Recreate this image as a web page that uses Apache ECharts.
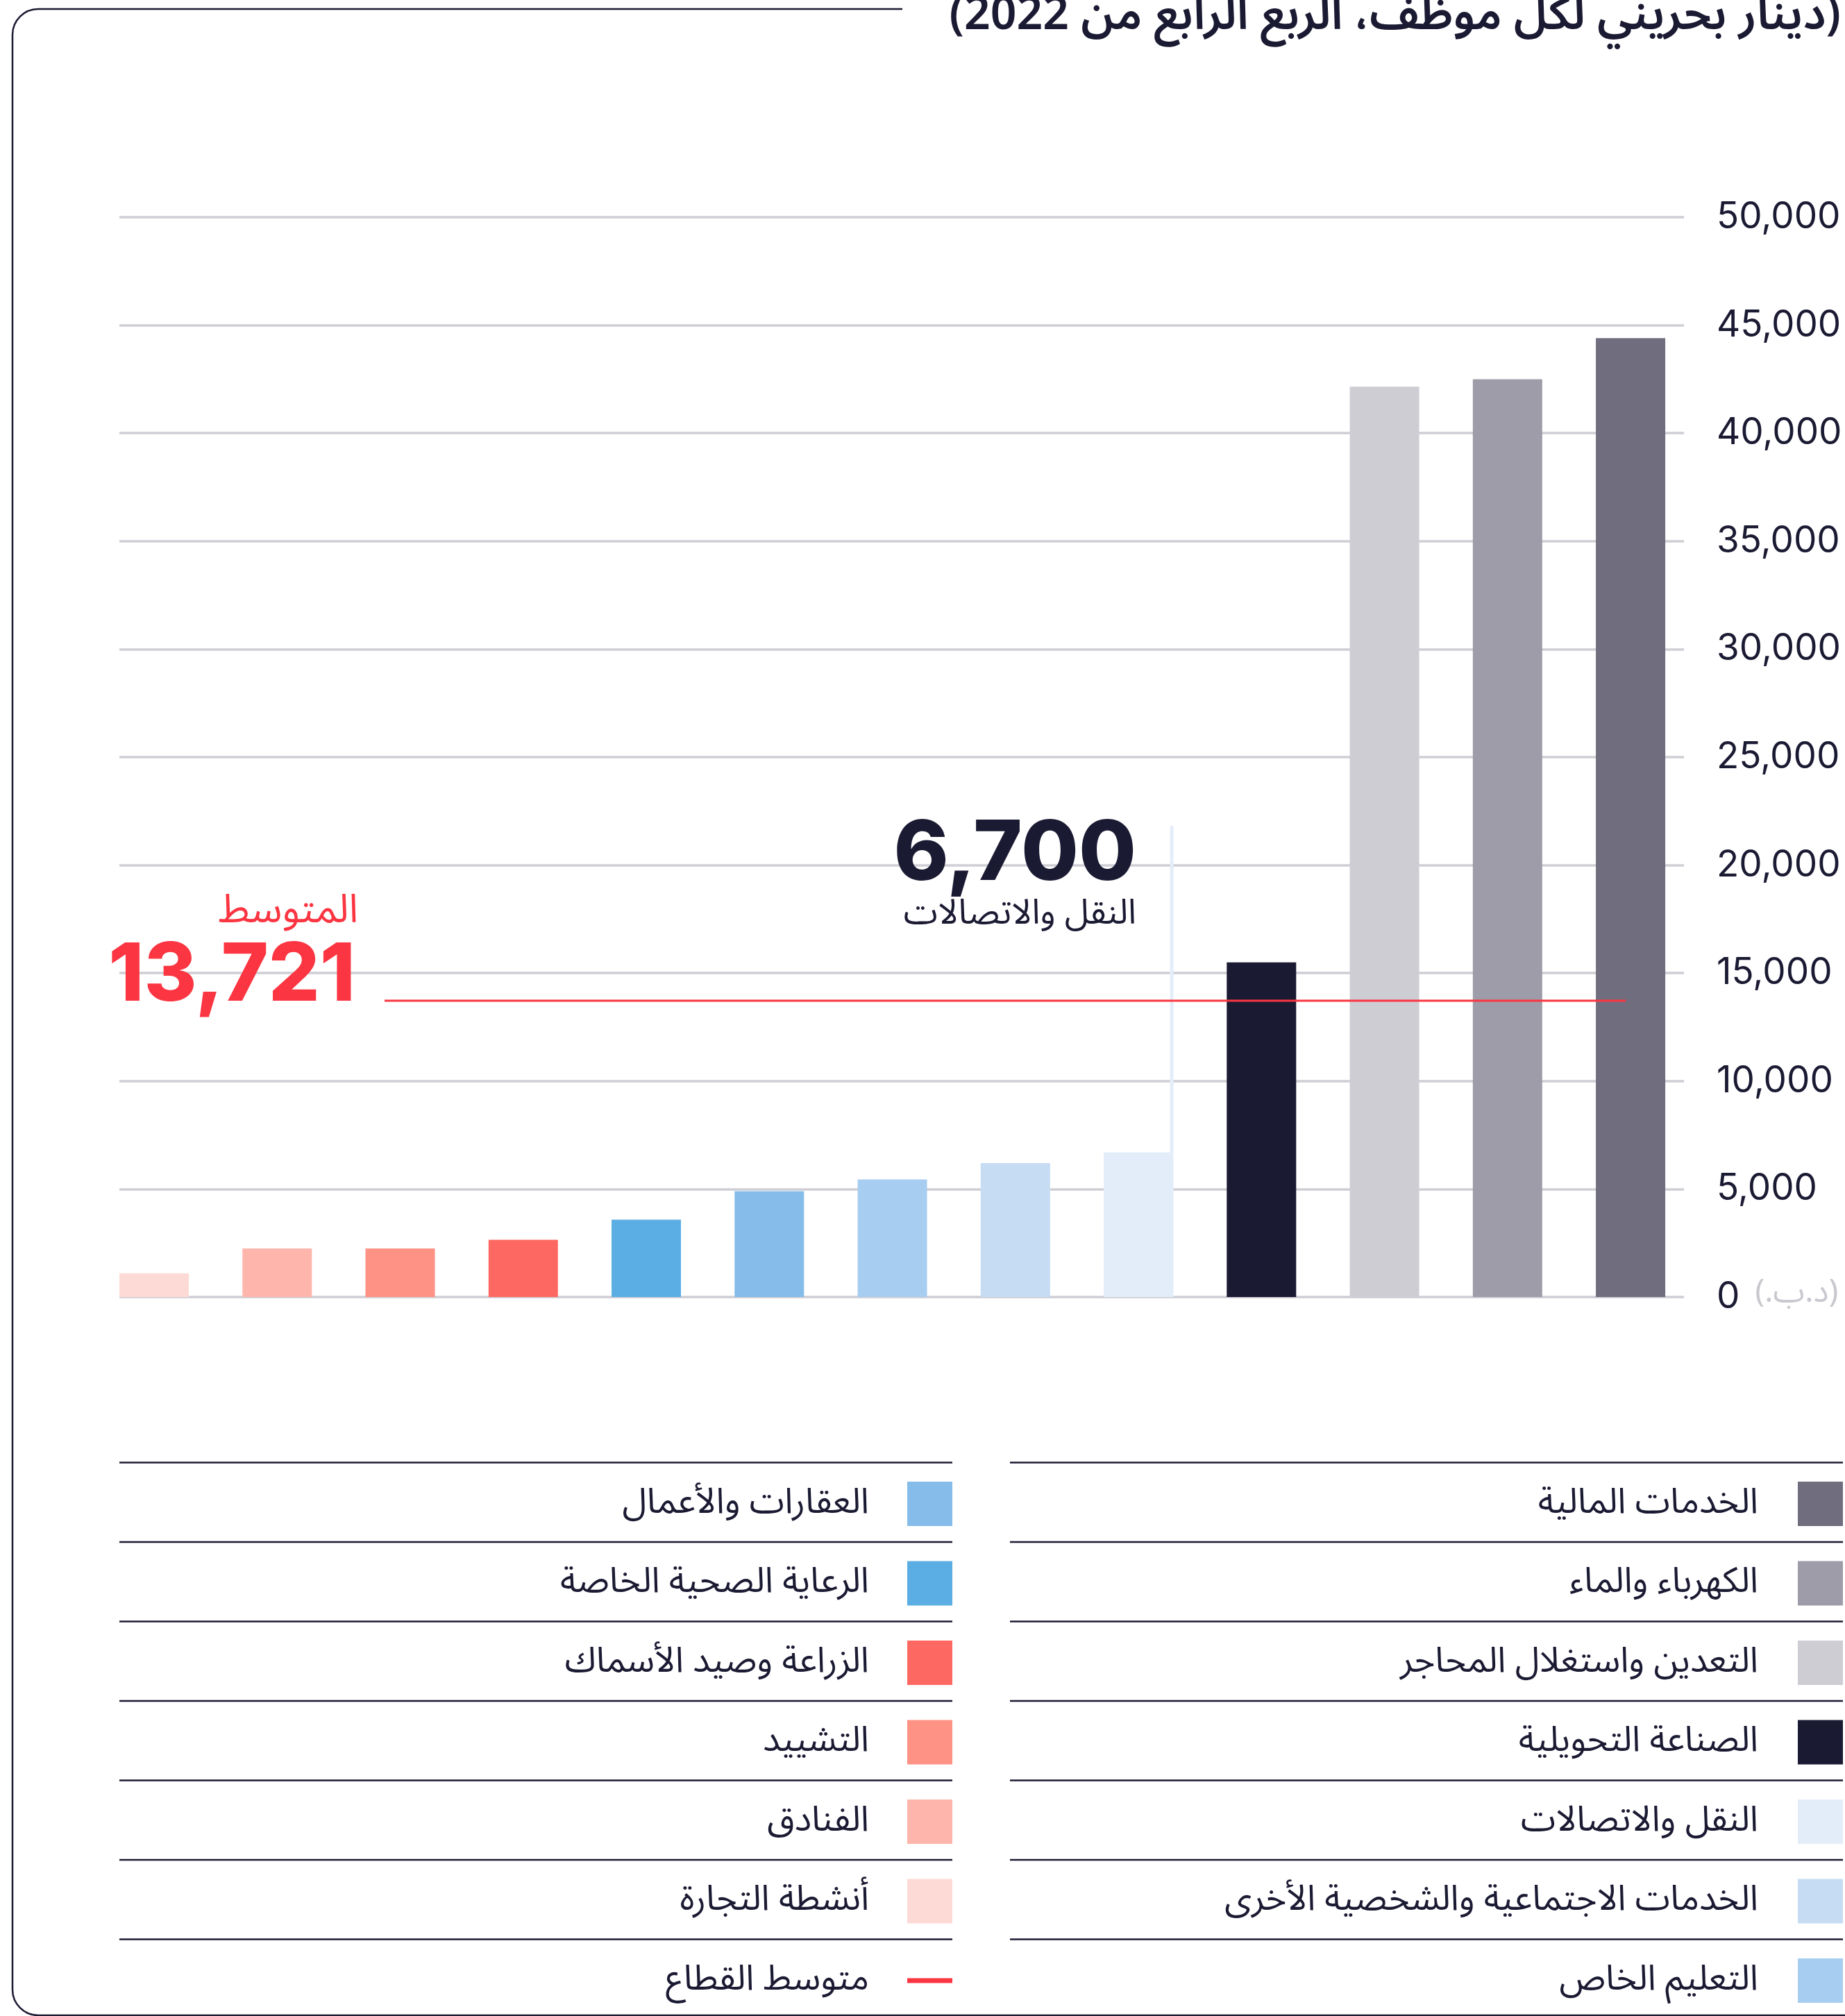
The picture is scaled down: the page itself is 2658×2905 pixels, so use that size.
<!DOCTYPE html>
<html><head><meta charset="utf-8">
<script src="https://cdn.jsdelivr.net/npm/echarts@6/dist/echarts.min.js"></script>
<style>html,body{margin:0;padding:0;background:#fff}#c{width:2658px;height:2905px}</style>
</head><body><div id="c"></div>
<script>
// ---- data ----
const categories = ['أنشطة التجارة', 'الفنادق', 'التشييد', 'الزراعة وصيد الأسماك', 'الرعاية الصحية الخاصة', 'العقارات والأعمال', 'التعليم الخاص', 'الخدمات الاجتماعية والشخصية الأخرى', 'النقل والاتصالات', 'الصناعة التحويلية', 'التعدين واستغلال المحاجر', 'الكهرباء والماء', 'الخدمات المالية'];
const values = [1100, 2250, 2250, 2650, 3580, 4900, 5450, 6200, 6700, 15500, 42150, 42500, 44400];
const barColors = ['#fddad5', '#feb5ac', '#fe9285', '#fe6862', '#5baee3', '#86bce9', '#a7cdf0', '#c5dcf3', '#e3edf9', '#1b1a33', '#cfcdd4', '#9e9ca8', '#706d7f'];
const yTicks = [0, 5000, 10000, 15000, 20000, 25000, 30000, 35000, 40000, 45000, 50000];
const sectorAverage = 13721;
const averageLabel = 'المتوسط';
const averageLegend = 'متوسط القطاع';
const highlightIndex = 8;
const titleText = '(دينار بحريني لكل موظف، الربع الرابع من 2022)';
const unitText = '(د.ب.)';
const legendRightCol = ['الخدمات المالية', 'الكهرباء والماء', 'التعدين واستغلال المحاجر', 'الصناعة التحويلية', 'النقل والاتصالات', 'الخدمات الاجتماعية والشخصية الأخرى', 'التعليم الخاص'];
const legendLeftCol = ['العقارات والأعمال', 'الرعاية الصحية الخاصة', 'الزراعة وصيد الأسماك', 'التشييد', 'الفنادق', 'أنشطة التجارة'];

// ---- style ----
const NAVY = '#1b1a33';
const RED = '#fb3541';
const GRID = '#cfced5';
const AR = '"Noto Sans Arabic", "DejaVu Sans", sans-serif';
const NUM = 'Inter, "DejaVu Sans", sans-serif';
const fmt = v => v.toLocaleString('en-US');

const chart = echarts.init(document.getElementById('c'), null, {renderer: 'canvas'});
const yMin = yTicks[0], yMax = yTicks[yTicks.length - 1], yStep = yTicks[1] - yTicks[0];

chart.setOption({
  backgroundColor: '#fff',
  animation: false,
  grid: [
    {left: 172, right: 232, top: 313, bottom: 1036},
    {left: 133.4, right: 220.3, top: 313, bottom: 1036}
  ],
  xAxis: [
    {type: 'category', gridIndex: 0, data: categories, show: false},
    {type: 'category', gridIndex: 1, data: categories, show: false}
  ],
  yAxis: [
    {type: 'value', gridIndex: 0, position: 'right', min: yMin, max: yMax, interval: yStep,
      axisLine: {show: false}, axisTick: {show: false},
      splitLine: {show: true, lineStyle: {color: GRID, width: 3.5}},
      axisLabel: {
        margin: 47, align: 'left',
        formatter: v => v === 0 ? '{a|0}{u|\u202B' + unitText + '\u202C}' : '{a|' + fmt(v) + '}',
        rich: {
          a: {fontFamily: NUM, fontSize: 53, color: NAVY},
          u: {fontFamily: AR, fontSize: 46, color: '#c9c8cf', padding: [0, 0, 0, 22]}
        }
      }},
    {type: 'value', gridIndex: 1, min: yMin, max: yMax, interval: yStep, show: false, splitLine: {show: false}}
  ],
  series: [{
    type: 'bar', xAxisIndex: 1, yAxisIndex: 1, barWidth: 100,
    data: values.map((v, i) => ({value: v, itemStyle: {color: barColors[i]}}))
  }]
});

// ---- overlay elements computed from the scales ----
const px = (i, v) => chart.convertToPixel({xAxisIndex: 1, yAxisIndex: 1}, [i, v]);
const yAvg = px(0, sectorAverage)[1];
const lastCenter = px(categories.length - 1, 0)[0];
const hl = px(highlightIndex, values[highlightIndex]);
const base = px(0, 0)[1];

const g = [];
// frame
g.push({type: 'rect', z: 1, shape: {x: 18, y: 13, width: 3000, height: 2891, r: 37},
  style: {fill: null, stroke: NAVY, lineWidth: 2.5}});
g.push({type: 'rect', z: 2, shape: {x: 1300, y: 0, width: 1400, height: 30}, style: {fill: '#fff'}});
// title
g.push({type: 'text', z: 10, style: {text: titleText, x: 2652, y: 32, align: 'right', verticalAlign: 'middle',
  font: '600 66px ' + AR, fill: NAVY}});
// highlight vertical line
g.push({type: 'line', z: 5, shape: {x1: hl[0] + 48, y1: 1190, x2: hl[0] + 48, y2: base}, style: {stroke: '#e3edf9', lineWidth: 5}});
g.push({type: 'text', z: 10, style: {text: fmt(values[highlightIndex]), x: 1637, y: 1232, align: 'right', verticalAlign: 'middle',
  font: '800 120px ' + NUM, fill: NAVY}});
g.push({type: 'text', z: 10, style: {text: categories[highlightIndex], x: 1637, y: 1323, align: 'right', verticalAlign: 'middle',
  font: '50px ' + AR, fill: NAVY}});
// average
g.push({type: 'line', z: 20, shape: {x1: 554, y1: yAvg, x2: lastCenter - 7, y2: yAvg}, style: {stroke: RED, lineWidth: 3}});
g.push({type: 'text', z: 10, style: {text: fmt(sectorAverage), x: 512, y: 1407, align: 'right', verticalAlign: 'middle',
  font: '800 116px ' + NUM, fill: RED}});
g.push({type: 'text', z: 10, style: {text: averageLabel, x: 516, y: 1320, align: 'right', verticalAlign: 'middle',
  font: '57px ' + AR, fill: RED}});

// legend
const rowH = 114.5, row0 = 2107.5;
function legendCol(names, lineX1, lineX2, swX, txtX, extraAvg) {
  const n = names.length + (extraAvg ? 1 : 0);
  for (let r = 0; r < n; r++) {
    const yl = row0 + r * rowH;
    g.push({type: 'line', z: 5, shape: {x1: lineX1, y1: yl, x2: lineX2, y2: yl}, style: {stroke: NAVY, lineWidth: 2.5}});
    const yc = yl + 59.5;
    if (r < names.length) {
      const idx = categories.indexOf(names[r]);
      g.push({type: 'rect', z: 5, shape: {x: swX, y: yc - 32, width: 65, height: 64}, style: {fill: barColors[idx]}});
      g.push({type: 'text', z: 5, style: {text: names[r], x: txtX, y: yc + 5, align: 'right', verticalAlign: 'middle', font: '51px ' + AR, fill: NAVY}});
    } else {
      g.push({type: 'rect', z: 5, shape: {x: swX, y: yc - 3.5, width: 65, height: 7}, style: {fill: RED}});
      g.push({type: 'text', z: 5, style: {text: averageLegend, x: txtX, y: yc + 5, align: 'right', verticalAlign: 'middle', font: '51px ' + AR, fill: NAVY}});
    }
  }
}
legendCol(legendRightCol, 1455, 2655, 2590, 2533, false);
legendCol(legendLeftCol, 172, 1372, 1307, 1252, true);

chart.setOption({graphic: {elements: g}});
</script></body></html>
